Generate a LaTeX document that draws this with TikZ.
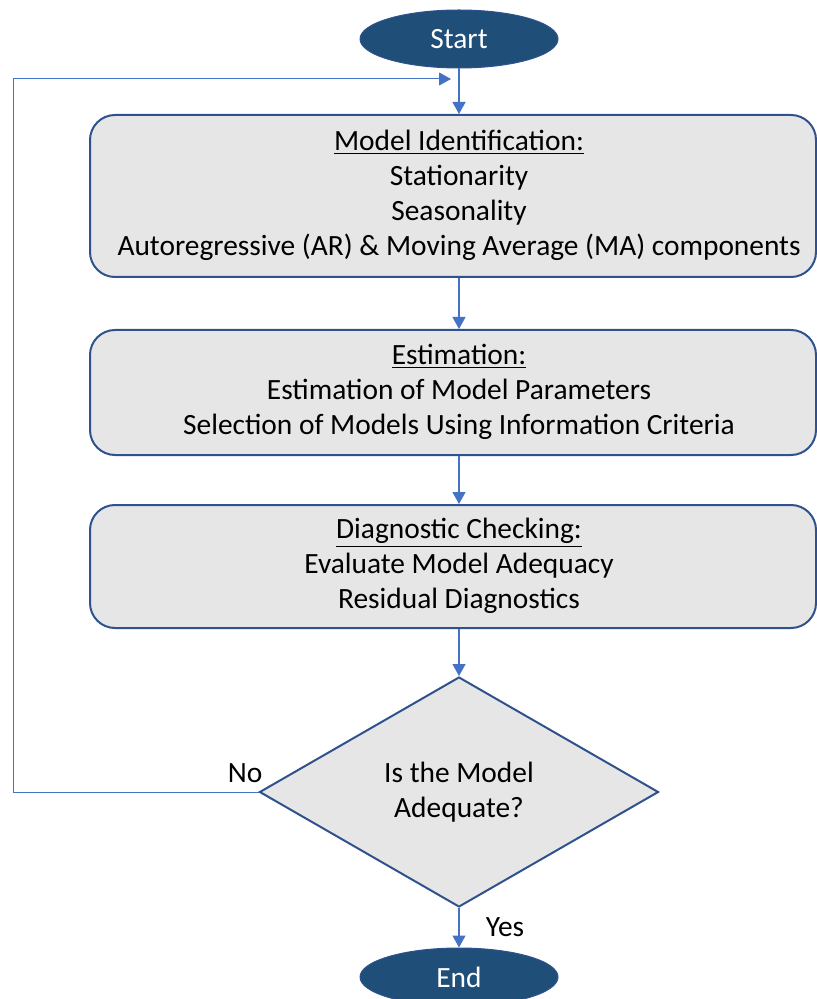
\documentclass[tikz,border=0pt]{standalone}
\usepackage{fontspec}
\setmainfont{Carlito}
\usepackage{xcolor}
\usepackage{tikz}
\usetikzlibrary{positioning}
\usetikzlibrary{arrows.meta,shapes.geometric}
\definecolor{termblue}{HTML}{1F4E79}
\definecolor{boxline}{HTML}{2F528F}
\definecolor{boxfill}{HTML}{E7E6E6}
\definecolor{arrowblue}{HTML}{4472C4}
\tikzset{edge/.style = {-{Triangle[length=6pt,width=6.5pt]}, draw=arrowblue, line width=0.6pt}}
\newcommand{\steptext}[1]{\hspace*{6pt}\begin{tabular}{@{}c@{}}#1\end{tabular}}

\begin{document}
\begin{tikzpicture}[x=0.5pt,y=-0.5pt,
    every node/.style={font=\fontsize{14.7pt}{17.6pt}\selectfont},
    term node/.style={ellipse,draw=boxline,fill=termblue,text=white,line width=0.5pt,
        minimum width=99pt,minimum height=29pt,inner sep=0pt},
    step node/.style={rectangle,rounded corners=12.5pt,draw=boxline,fill=boxfill,line width=1pt,
        minimum width=363pt,inner sep=0pt},
    check node/.style={diamond,draw=boxline,fill=boxfill,line width=1pt,
        minimum width=199.5pt,minimum height=115pt,align=center,inner sep=0pt}]
            \clip (0,0) rectangle (817,999);

            \node[term node] (start) at (459,39) {Start};
            \node[step node,minimum height=81pt] (ident) at (453,196)
                {\steptext{\underline{Model Identification:}\\Stationarity\\Seasonality\\Autoregressive (AR) \& Moving Average (MA) components}};
            \node[step node,minimum height=62.5pt] (estim) at (453,392.5)
                {\steptext{\underline{Estimation:}\\Estimation of Model Parameters\\Selection of Models Using Information Criteria}};
            \node[step node,minimum height=61.5pt] (diag) at (453,566.5)
                {\steptext{\underline{Diagnostic Checking:}\\Evaluate Model Adequacy\\Residual Diagnostics}};
            \node[check node] (adequate) at (459,792) {Is the Model\\Adequate?};
            \node[term node] (end) at (459,977) {End};

            \coordinate (back) at (13,79);
            \coordinate (backin) at (451,79);

            \draw[edge] (start) -- (start |- ident.north);
            \draw[edge] (start |- ident.south) -- (start |- estim.north);
            \draw[edge] (start |- estim.south) -- (start |- diag.north);
            \draw[edge] (start |- diag.south) -- (adequate.north);
            \draw[edge] (adequate.south) -- (end.north);

            %\draw[edge] (adequate.west) -| (back) -- (backin);
            \draw[edge,line width=0.5pt] (adequate.west) -| (back) -- (backin);

            \node (nolabel) at (245,773) {No};
            \node (yeslabel) at (505,927) {Yes};
        \end{tikzpicture}
\end{document}
